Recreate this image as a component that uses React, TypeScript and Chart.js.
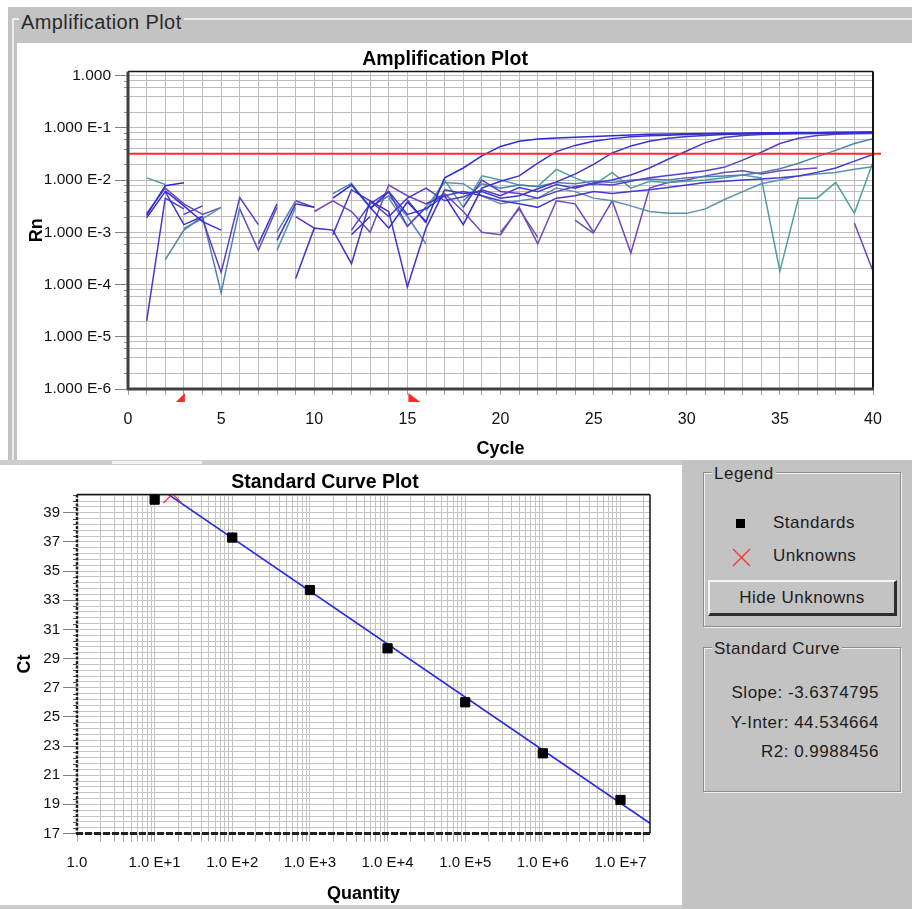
import React, { useEffect, useRef } from 'react';
import { Chart, registerables } from 'chart.js';

Chart.register(...registerables);

const FONT = '"Liberation Sans", Arial, Helvetica, sans-serif';
const PANEL_GRAY = '#c3c3c3';

// ---------------- Amplification plot data ----------------
const cycles = [1, 2, 3, 4, 5, 6, 7, 8, 9, 10, 11, 12, 13, 14, 15, 16, 17, 18, 19, 20,
  21, 22, 23, 24, 25, 26, 27, 28, 29, 30, 31, 32, 33, 34, 35, 36, 37, 38, 39, 40];

const threshold = 0.032;
const baselineStart = 3;
const baselineEnd = 15;

const ampStd1 = [0.0021, 0.0078, 0.0089, null, null, null, null, null, null, null,
  0.0045, 0.0080, 0.0030, 0.0012, 0.0038, 0.0016, 0.011, 0.017, 0.029, 0.044,
  0.055, 0.061, 0.064, 0.066, 0.068, 0.070, 0.073, 0.075, 0.076, 0.077,
  0.078, 0.079, 0.079, 0.080, 0.080, 0.081, 0.081, 0.082, 0.082, 0.083];
const ampStd2 = [null, 0.0062, 0.0032, 0.0016, 0.0011, null, null, 0.0007, 0.0035, 0.0030,
  null, null, 0.0028, 0.0060, 0.0022, 0.0028, 0.0050, 0.0014, 0.0070, 0.0095,
  0.012, 0.021, 0.035, 0.046, 0.055, 0.062, 0.067, 0.070, 0.072, 0.074,
  0.076, 0.077, 0.078, 0.079, 0.079, 0.080, 0.080, 0.081, 0.081, 0.082];
const ampStd3 = [0.0019, 0.0060, 0.0014, 0.0020, null, null, null, null, 0.00013, 0.0012,
  0.0011, 0.00025, 0.0040, 0.0025, 0.00009, 0.0012, 0.0065, 0.0055, 0.0060, 0.0045,
  0.0050, 0.0068, 0.0092, 0.013, 0.020, 0.033, 0.045, 0.055, 0.063, 0.068,
  0.071, 0.074, 0.076, 0.077, 0.078, 0.079, 0.080, 0.080, 0.081, 0.081];
const ampStd4 = [null, null, 0.0022, 0.0032, null, null, 0.0006, 0.0035, null, null,
  0.0009, 0.0065, 0.0040, 0.0020, 0.0045, 0.0070, 0.0040, 0.0048, 0.0065, 0.0050,
  0.0072, 0.0060, 0.0082, 0.0070, 0.0088, 0.0100, 0.0125, 0.017, 0.025, 0.036,
  0.052, 0.065, 0.071, 0.074, 0.076, 0.077, 0.078, 0.079, 0.079, 0.080];
const ampStd5 = [null, null, null, 0.0018, 0.00017, 0.0046, 0.0014, null, 0.0040, 0.0030,
  null, 0.0011, 0.0035, 0.0060, 0.0013, 0.0030, null, 0.0030, 0.0100, 0.0060,
  0.0055, 0.0045, 0.0060, 0.0075, 0.0085, 0.0080, 0.0095, 0.0110, 0.0122, 0.0135,
  0.0150, 0.0175, 0.024, 0.034, 0.050, 0.063, 0.071, 0.075, 0.077, 0.078];
const ampStd6 = [null, 0.0003, 0.0011, 0.0020, 0.00007, 0.0030, null, 0.0010, 0.0040, null,
  0.0055, 0.0086, 0.0030, 0.0050, 0.0020, 0.0006, null, 0.0040, 0.0085, 0.0070,
  0.0080, 0.0075, 0.0090, 0.0085, 0.0095, 0.0090, 0.0100, 0.0105, 0.0100, 0.0110,
  0.0115, 0.0120, 0.0125, 0.0140, 0.0165, 0.021, 0.028, 0.037, 0.050, 0.062];
const ampStd7 = [0.00002, 0.0045, 0.0028, null, null, null, null, null, 0.0020, 0.0012,
  null, 0.0009, 0.0020, null, null, 0.0035, 0.0050, 0.0060, 0.0050, 0.0040,
  0.0035, 0.0030, 0.0045, 0.0050, 0.0060, 0.0055, 0.0060, 0.0065, 0.0072, 0.0080,
  0.0090, 0.0095, 0.0100, 0.0105, 0.0110, 0.0120, 0.0140, 0.0170, 0.0230, 0.0310];
const ampUnk1 = [0.011, 0.0082, null, null, null, null, null, null, null, null,
  null, null, null, null, null, 0.0025, 0.0100, 0.0030, 0.0120, 0.0100,
  0.0080, 0.0075, 0.0160, 0.0110, 0.0080, 0.0140, 0.0070, 0.0095, 0.0090, 0.0095,
  0.0100, 0.0110, 0.0125, 0.0110, 0.00018, 0.0045, 0.0045, 0.0090, 0.0023, 0.0220];
const ampUnk2 = [null, null, 0.0012, 0.0018, 0.0030, null, null, 0.00045, 0.0030, null,
  null, null, null, 0.0045, 0.0013, 0.0030, 0.0090, 0.0085, 0.0050, 0.0035,
  0.0040, 0.0045, 0.0070, 0.0060, 0.0045, 0.0040, 0.0032, 0.0025, 0.0023, 0.0023,
  0.0028, 0.0042, 0.0060, 0.0085, 0.0100, 0.0120, 0.0130, 0.0140, 0.0160, 0.0180];
const ampUnk3 = [0.0023, 0.0070, 0.0035, 0.0022, 0.0030, null, null, null, null, 0.0025,
  0.0040, 0.0025, 0.0010, 0.0080, 0.0050, 0.0035, 0.0055, 0.0025, 0.0010, 0.0009,
  0.0030, 0.0006, 0.0040, 0.0035, 0.0010, 0.0040, 0.0004, 0.0070, 0.0090, 0.0100,
  0.0120, 0.0140, 0.0150, 0.0130, 0.0150, 0.0160, 0.0170, null, 0.0015, 0.00018];
const ampUnk4 = [null, null, null, null, null, 0.0028, 0.00045, 0.0030, null, null,
  null, null, 0.0038, null, 0.0042, 0.0015, null, null, null, 0.0010,
  0.0028, 0.0008, null, 0.0017, 0.00095, null, null, null, null, null,
  null, null, null, null, null, null, null, null, null, null];

const ampSeries = [
  { name: 'Std 1', color: '#2d2ad6', values: ampStd1 },
  { name: 'Std 2', color: '#3a2fd0', values: ampStd2 },
  { name: 'Std 3', color: '#3f36c8', values: ampStd3 },
  { name: 'Std 4', color: '#4a3cc4', values: ampStd4 },
  { name: 'Std 5', color: '#5b3fc2', values: ampStd5 },
  { name: 'Std 6', color: '#4e80b0', values: ampStd6 },
  { name: 'Std 7', color: '#4a38cc', values: ampStd7 },
  { name: 'Unk 1', color: '#4e9e9c', values: ampUnk1 },
  { name: 'Unk 2', color: '#5b92aa', values: ampUnk2 },
  { name: 'Unk 3', color: '#7048bc', values: ampUnk3 },
  { name: 'Unk 4', color: '#5a58b4', values: ampUnk4 },
];

const rnDecades = [1, 0.1, 0.01, 0.001, 0.0001, 0.00001, 0.000001];
const rnDecadeLabels = ['1.000', '1.000 E-1', '1.000 E-2', '1.000 E-3', '1.000 E-4', '1.000 E-5', '1.000 E-6'];
const rnMinorMultipliers = [2, 4, 6, 8];
const cycleTickLabels = [0, 5, 10, 15, 20, 25, 30, 35, 40];

// ---------------- Standard curve data ----------------
const stdQuantity = [10, 100, 1000, 10000, 100000, 1000000, 10000000];
const stdCt = [39.9, 37.3, 33.7, 29.7, 26.0, 22.5, 19.3];
const unkQuantity = [17];
const unkCt = [40.3];
const fitQuantity = [10, 24000000];
const fitCt = [40.9, 17.7];
const quantityDecades = [1, 10, 100, 1000, 10000, 100000, 1000000, 10000000];
const quantityDecadeLabels = ['1.0', '1.0 E+1', '1.0 E+2', '1.0 E+3', '1.0 E+4', '1.0 E+5', '1.0 E+6', '1.0 E+7'];
const ctTickLabels = [17, 19, 21, 23, 25, 27, 29, 31, 33, 35, 37, 39];

const slopeText = '-3.6374795';
const interceptText = '44.534664';
const r2Text = '0.9988456';

// ---------------- helpers ----------------
function decadeIndex(list: number[], v: number): number {
  return list.findIndex((d) => Math.abs(d - v) / d < 1e-6);
}

function rnGridValues(): number[] {
  const out: number[] = [];
  const asc = [...rnDecades].reverse();
  asc.forEach((d) => {
    out.push(d);
    if (d < 1) rnMinorMultipliers.forEach((m) => out.push(d * m));
  });
  return out;
}

function quantityGridValues(max: number): number[] {
  const out: number[] = [];
  quantityDecades.forEach((d) => {
    for (let m = 1; m <= 9; m++) {
      const v = d * m;
      if (v <= max) out.push(v);
    }
  });
  return out;
}

function ctGridValues(min: number, max: number): number[] {
  const out: number[] = [];
  for (let i = 0; ; i++) {
    const v = Math.round((min + 0.4 * i) * 10) / 10;
    if (v > max) break;
    out.push(v);
  }
  return out;
}

const framePlugin = {
  id: 'frame',
  afterDraw(chart: any, _args: any, o: any) {
    const { ctx, chartArea } = chart;
    const { left, right, top, bottom } = chartArea;
    ctx.save();
    const ys = chart.scales.y;
    ctx.strokeStyle = o.minorTickColor;
    ctx.lineWidth = 1;
    ys.ticks.forEach((t: any) => {
      if (t.label === '') {
        const py = Math.round(ys.getPixelForValue(t.value)) + 0.5;
        ctx.beginPath();
        ctx.moveTo(left - o.minorTickLength, py);
        ctx.lineTo(left, py);
        ctx.stroke();
      }
    });
    const seg = (x1: number, y1: number, x2: number, y2: number, w: number, c: string, dash: number[]) => {
      ctx.beginPath();
      ctx.setLineDash(dash);
      ctx.lineWidth = w;
      ctx.strokeStyle = c;
      ctx.moveTo(x1, y1);
      ctx.lineTo(x2, y2);
      ctx.stroke();
    };
    seg(left, top, right, top, o.topWidth, o.topColor, []);
    seg(right, top, right, bottom, o.rightWidth, o.topColor, []);
    seg(left, top, left, bottom, o.leftWidth, o.axisColor, o.leftDash);
    seg(left - 1, bottom, right + 1, bottom, o.bottomWidth, o.axisColor, o.bottomDash);
    ctx.restore();
  },
};

const thresholdPlugin = {
  id: 'thresholdMarks',
  afterDatasetsDraw(chart: any, _args: any, o: any) {
    const { ctx, chartArea } = chart;
    const y = chart.scales.y.getPixelForValue(o.value);
    ctx.save();
    ctx.strokeStyle = o.color;
    ctx.lineWidth = 2;
    ctx.beginPath();
    ctx.moveTo(chartArea.left, y);
    ctx.lineTo(chartArea.right + 8, y);
    ctx.stroke();
    ctx.restore();
  },
  afterDraw(chart: any, _args: any, o: any) {
    const { ctx, chartArea } = chart;
    const xs = chart.scales.x;
    const b = chartArea.bottom;
    const x1 = xs.getPixelForValue(o.start);
    const x2 = xs.getPixelForValue(o.end);
    ctx.save();
    ctx.fillStyle = o.color;
    ctx.beginPath();
    ctx.moveTo(x1 + 1, b + 4);
    ctx.lineTo(x1 + 1, b + 13);
    ctx.lineTo(x1 - 8, b + 13);
    ctx.closePath();
    ctx.fill();
    ctx.beginPath();
    ctx.moveTo(x2 + 1, b + 4);
    ctx.lineTo(x2 + 1, b + 13);
    ctx.lineTo(x2 + 13, b + 13);
    ctx.closePath();
    ctx.fill();
    ctx.restore();
  },
};

function ampConfig(): any {
  return {
    type: 'line',
    data: {
      datasets: ampSeries.map((s) => ({
        label: s.name,
        data: s.values.map((v, i) => ({ x: cycles[i], y: v })),
        borderColor: s.color,
        backgroundColor: s.color,
        borderWidth: 1.5,
        pointRadius: 0,
        spanGaps: false,
        tension: 0,
        fill: false,
      })),
    },
    options: {
      responsive: false,
      animation: false,
      events: [],
      layout: { padding: { left: 0, right: 39, top: 0, bottom: 0 } },
      plugins: {
        legend: { display: false },
        tooltip: { enabled: false },
        title: {
          display: true,
          text: 'Amplification Plot',
          color: '#000',
          font: { family: FONT, size: 19.5, weight: 'bold' },
          padding: { top: 5, bottom: 0 },
        },
        frame: {
          minorTickColor: '#909090', minorTickLength: 4,
          topWidth: 1.5, rightWidth: 2, topColor: '#151515',
          leftWidth: 3, bottomWidth: 3, axisColor: '#404040',
          leftDash: [], bottomDash: [],
        },
        thresholdMarks: { value: threshold, color: '#ff2a2a', start: baselineStart, end: baselineEnd },
      },
      scales: {
        x: {
          type: 'linear',
          min: 0,
          max: 40,
          afterBuildTicks: (s: any) => { s.ticks = [0, ...cycles].map((v) => ({ value: v })); },
          afterFit: (s: any) => { s.height = 71; },
          ticks: {
            autoSkip: false, maxRotation: 0, padding: 15, color: '#111',
            font: { family: FONT, size: 16 },
            callback: (v: any) => (cycleTickLabels.includes(Number(v)) ? String(v) : ''),
          },
          grid: { color: '#bdbdbd', lineWidth: 1, tickLength: 6, tickColor: '#a0a0a0' },
          border: { display: false },
          title: {
            display: true, text: 'Cycle', color: '#000',
            font: { family: FONT, size: 18, weight: 'bold' },
            padding: { top: 0, bottom: 0 },
          },
        },
        y: {
          type: 'logarithmic',
          min: 0.000001,
          max: 1.2,
          afterBuildTicks: (s: any) => { s.ticks = rnGridValues().map((v) => ({ value: v })); },
          afterFit: (s: any) => { s.width = 111; },
          ticks: {
            autoSkip: false, padding: 4, color: '#111',
            font: { family: FONT, size: 15.5 },
            callback: (v: any) => {
              const i = decadeIndex(rnDecades, Number(v));
              return i >= 0 ? rnDecadeLabels[i] : '';
            },
          },
          grid: {
            color: '#bdbdbd', lineWidth: 1, tickLength: 13,
            tickColor: (c: any) => (c.tick && decadeIndex(rnDecades, c.tick.value) >= 0 ? '#808080' : 'rgba(0,0,0,0)'),
          },
          border: { display: false },
          title: {
            display: true, text: 'Rn', color: '#000',
            font: { family: FONT, size: 18, weight: 'bold' },
            padding: { top: 9, bottom: 0 },
          },
        },
      },
    },
    plugins: [framePlugin, thresholdPlugin],
  };
}

function stdConfig(): any {
  const xMax = 24000000;
  const yMin = 17;
  const yMax = 40.26;
  return {
    type: 'scatter',
    data: {
      datasets: [
        {
          label: 'Standards',
          data: stdQuantity.map((q, i) => ({ x: q, y: stdCt[i] })),
          pointStyle: 'rect',
          pointRadius: 6.5,
          backgroundColor: '#000',
          borderColor: '#000',
          borderWidth: 1,
        },
        {
          label: 'Unknowns',
          data: unkQuantity.map((q, i) => ({ x: q, y: unkCt[i] })),
          pointStyle: 'crossRot',
          pointRadius: 13,
          borderColor: '#ff3030',
          backgroundColor: '#ff3030',
          borderWidth: 1.2,
          clip: 0,
        },
        {
          label: 'Standard Curve',
          type: 'line',
          data: fitQuantity.map((q, i) => ({ x: q, y: fitCt[i] })),
          borderColor: '#2828e0',
          borderWidth: 1.6,
          pointRadius: 0,
          showLine: true,
          fill: false,
        },
      ],
    },
    options: {
      responsive: false,
      animation: false,
      events: [],
      layout: { padding: { left: 0, right: 32, top: 0, bottom: 0 } },
      plugins: {
        legend: { display: false },
        tooltip: { enabled: false },
        title: {
          display: true,
          text: 'Standard Curve Plot',
          color: '#000',
          font: { family: FONT, size: 19.5, weight: 'bold' },
          padding: { top: 5, bottom: 0 },
        },
        frame: {
          minorTickColor: '#505050', minorTickLength: 4,
          topWidth: 1.5, rightWidth: 1.5, topColor: '#151515',
          leftWidth: 2.5, bottomWidth: 3, axisColor: '#202020',
          leftDash: [3, 1.5], bottomDash: [7, 2],
        },
      },
      scales: {
        x: {
          type: 'logarithmic',
          min: 1,
          max: xMax,
          afterBuildTicks: (s: any) => { s.ticks = quantityGridValues(xMax).map((v) => ({ value: v })); },
          afterFit: (s: any) => { s.height = 71.5; },
          ticks: {
            autoSkip: false, maxRotation: 0, padding: 12, color: '#111',
            font: { family: FONT, size: 15 },
            callback: (v: any) => {
              const i = decadeIndex(quantityDecades, Number(v));
              return i >= 0 ? quantityDecadeLabels[i] : '';
            },
          },
          grid: { color: '#c4c4c4', lineWidth: 1, tickLength: 8, tickColor: '#a8a8a8' },
          border: { display: false },
          title: {
            display: true, text: 'Quantity', color: '#000',
            font: { family: FONT, size: 18, weight: 'bold' },
            padding: { top: 0, bottom: 0 },
          },
        },
        y: {
          type: 'linear',
          min: yMin,
          max: yMax,
          afterBuildTicks: (s: any) => { s.ticks = ctGridValues(yMin, yMax).map((v) => ({ value: v })); },
          afterFit: (s: any) => { s.width = 77; },
          ticks: {
            autoSkip: false, padding: 3, color: '#111',
            font: { family: FONT, size: 15 },
            callback: (v: any) => {
              const r = Math.round(Number(v) * 10) / 10;
              return ctTickLabels.includes(r) ? String(r) : '';
            },
          },
          grid: {
            color: '#c4c4c4', lineWidth: 1, tickLength: 14,
            tickColor: (c: any) => {
              const r = c.tick ? Math.round(c.tick.value * 10) / 10 : 0;
              return ctTickLabels.includes(r) ? '#808080' : 'rgba(0,0,0,0)';
            },
          },
          border: { display: false },
          title: {
            display: true, text: 'Ct', color: '#000',
            font: { family: FONT, size: 18, weight: 'bold' },
            padding: { top: 14, bottom: 0 },
          },
        },
      },
    },
    plugins: [framePlugin],
  };
}

const abs = (left: number, top: number, width: number, height: number, extra: any = {}): React.CSSProperties => ({
  position: 'absolute', left, top, width, height, ...extra,
});

const etched: React.CSSProperties = {
  border: '1px solid #8c8c8c',
  boxShadow: '1px 1px 0 #f2f2f2, inset 1px 1px 0 #f2f2f2',
  boxSizing: 'border-box',
};

const panelText: React.CSSProperties = {
  position: 'absolute',
  fontFamily: FONT,
  fontSize: 17,
  lineHeight: '20px',
  letterSpacing: 0.5,
  color: '#1c1c1c',
  whiteSpace: 'nowrap',
};

export default function App() {
  const ampRef = useRef<HTMLCanvasElement>(null);
  const stdRef = useRef<HTMLCanvasElement>(null);

  useEffect(() => {
    document.body.style.margin = '0';
    const c1 = new Chart(ampRef.current as HTMLCanvasElement, ampConfig());
    const c2 = new Chart(stdRef.current as HTMLCanvasElement, stdConfig());
    return () => {
      c1.destroy();
      c2.destroy();
    };
  }, []);

  return (
    <div style={{ position: 'absolute', left: 0, top: 0, width: 912, height: 909, background: '#fff', overflow: 'hidden', fontFamily: FONT }}>
      {/* top panel frame */}
      <div style={abs(8, 7, 904, 36, { background: PANEL_GRAY })} />
      <div style={abs(8, 7, 9, 458, { background: PANEL_GRAY })} />
      <div style={abs(12, 18, 900, 2, { background: '#ededed' })} />
      <div style={abs(12, 18, 2, 444, { background: '#ededed' })} />
      <div style={{ ...panelText, left: 19, top: 10, fontSize: 20, lineHeight: '24px', letterSpacing: 0.4, background: PANEL_GRAY, padding: '0 2px', color: '#2a2a2a' }}>
        Amplification Plot
      </div>
      <div style={abs(17, 43, 895, 417)}>
        <canvas ref={ampRef} width={895} height={417} style={{ display: 'block', width: 895, height: 417 }} />
      </div>

      {/* separator */}
      <div style={abs(0, 460, 682, 5, { background: '#cdcdcd' })} />
      <div style={abs(112, 461, 90, 3, { background: '#f2f2f2' })} />

      {/* bottom chart */}
      <div style={abs(0, 466, 682, 439)}>
        <canvas ref={stdRef} width={682} height={439} style={{ display: 'block', width: 682, height: 439 }} />
      </div>
      <div style={abs(0, 905, 682, 4, { background: '#cdcdcd' })} />

      {/* right panel */}
      <div style={abs(682, 460, 230, 449, { background: PANEL_GRAY })} />

      <div style={{ ...abs(703, 472, 198, 155), ...etched }} />
      <div style={{ ...panelText, left: 712, top: 464, background: PANEL_GRAY, padding: '0 2px' }}>Legend</div>
      <div style={abs(736, 519, 9, 9, { background: '#000' })} />
      <div style={{ ...panelText, left: 773, top: 513 }}>Standards</div>
      <svg style={abs(732, 548, 19, 19)} width={19} height={19}>
        <line x1={1} y1={1} x2={18} y2={18} stroke="#ff3030" strokeWidth={1.2} />
        <line x1={18} y1={1} x2={1} y2={18} stroke="#ff3030" strokeWidth={1.2} />
      </svg>
      <div style={{ ...panelText, left: 773, top: 546 }}>Unknowns</div>
      <div
        style={{
          ...abs(708, 580, 189, 36),
          background: PANEL_GRAY,
          borderTop: '2px solid #f4f4f4',
          borderLeft: '2px solid #f4f4f4',
          borderRight: '3px solid #2e2e2e',
          borderBottom: '3px solid #2e2e2e',
          boxSizing: 'border-box',
          textAlign: 'center',
          fontFamily: FONT,
          fontSize: 17,
          lineHeight: '31px',
          letterSpacing: 0.5,
          color: '#1c1c1c',
        }}
      >
        Hide Unknowns
      </div>

      <div style={{ ...abs(703, 647, 198, 145), ...etched }} />
      <div style={{ ...panelText, left: 712, top: 639, background: PANEL_GRAY, padding: '0 2px' }}>Standard Curve</div>
      <div style={{ ...panelText, left: 703, width: 176, top: 683, textAlign: 'right' }}>Slope: {slopeText}</div>
      <div style={{ ...panelText, left: 703, width: 176, top: 713, textAlign: 'right' }}>Y-Inter: {interceptText}</div>
      <div style={{ ...panelText, left: 703, width: 176, top: 742, textAlign: 'right' }}>R2: {r2Text}</div>
    </div>
  );
}
